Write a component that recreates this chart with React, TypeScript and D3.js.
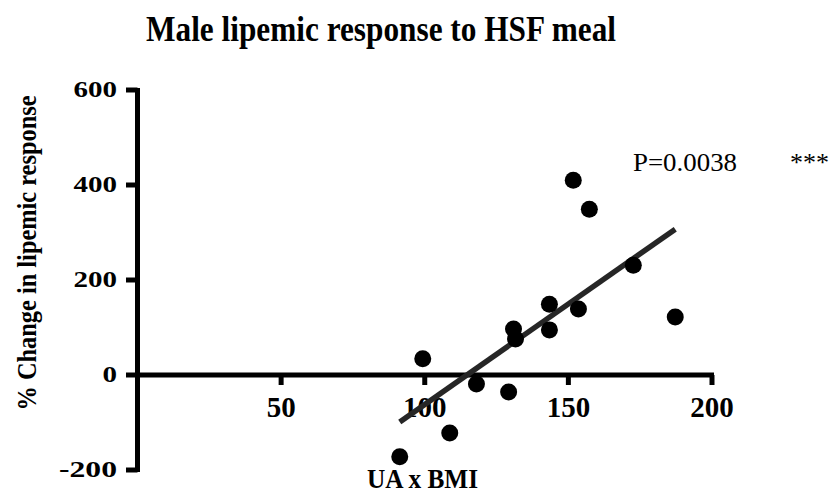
import React from "react";
import * as d3 from "d3";

// data
const uaBmi = [151.7, 157.3, 172.6, 187.2, 143.4, 153.5, 130.9, 131.6, 143.4, 99.3, 118.0, 129.2, 108.7, 91.3];
const pctChange = [410, 349, 231, 122, 149, 139, 97, 76, 95, 34, -19, -36, -122, -172];
const fitX = [91.3, 187.2];
const fitY = [-99, 307];
const xTicks = [50, 100, 150, 200];
const yTicks = [-200, 0, 200, 400, 600];

const W = 837;
const H = 493;
const serif = "'Liberation Serif', 'Times New Roman', serif";

const App = () => {
  const x = d3.scaleLinear().domain([0, 200]).range([137.5, 712]);
  const y = d3.scaleLinear().domain([-200, 600]).range([470, 90]);
  const y0 = y(0);
  const fitLine = d3
    .line<number>()
    .x((d) => x(d))
    .y((_, i) => y(fitY[i]));

  return (
    <svg
      width={W}
      height={H}
      style={{ position: "absolute", left: 0, top: 0, background: "#fff" }}
      fontFamily={serif}
    >
      <text x={146} y={41} fontSize={35} fontWeight={700} textLength={470} lengthAdjust="spacingAndGlyphs">
        Male lipemic response to HSF meal
      </text>

      {/* y axis */}
      <line x1={x(0)} x2={x(0)} y1={y(600) - 2} y2={y(-200) + 2} stroke="#000" strokeWidth={5} />
      {yTicks.map((t) => (
        <g key={t}>
          <line x1={126} x2={x(0)} y1={y(t)} y2={y(t)} stroke="#000" strokeWidth={5} />
          <text
            x={117}
            y={y(t) + 7}
            textAnchor="end"
            fontSize={24}
            fontWeight={700}
            textLength={String(t).length * 14.5}
            lengthAdjust="spacingAndGlyphs"
          >
            {t}
          </text>
        </g>
      ))}

      {/* x axis crossing at zero */}
      <line x1={x(0)} x2={x(200) + 2} y1={y0} y2={y0} stroke="#000" strokeWidth={5} />
      {xTicks.map((t) => (
        <g key={t}>
          <line x1={x(t)} x2={x(t)} y1={y0} y2={y0 + 10} stroke="#000" strokeWidth={5} />
          <text x={x(t)} y={y0 + 42} textAnchor="middle" fontSize={29} fontWeight={700}>
            {t}
          </text>
        </g>
      ))}

      <text
        transform={`translate(36,253) rotate(-90)`}
        textAnchor="middle"
        fontSize={27}
        fontWeight={700}
        textLength={315}
        lengthAdjust="spacingAndGlyphs"
      >
        % Change in lipemic response
      </text>
      <text x={367} y={488} fontSize={28} fontWeight={700} textLength={111} lengthAdjust="spacingAndGlyphs">
        UA x BMI
      </text>

      <path d={fitLine(fitX) || ""} stroke="#262626" strokeWidth={5.5} fill="none" />

      {uaBmi.map((v, i) => (
        <circle key={i} cx={x(v)} cy={y(pctChange[i])} r={8.5} fill="#000" />
      ))}

      <text x={633} y={171} fontSize={26} textLength={104} lengthAdjust="spacingAndGlyphs">
        P=0.0038
      </text>
      <text x={790} y={171} fontSize={26}>
        ***
      </text>
    </svg>
  );
};

export default App;
